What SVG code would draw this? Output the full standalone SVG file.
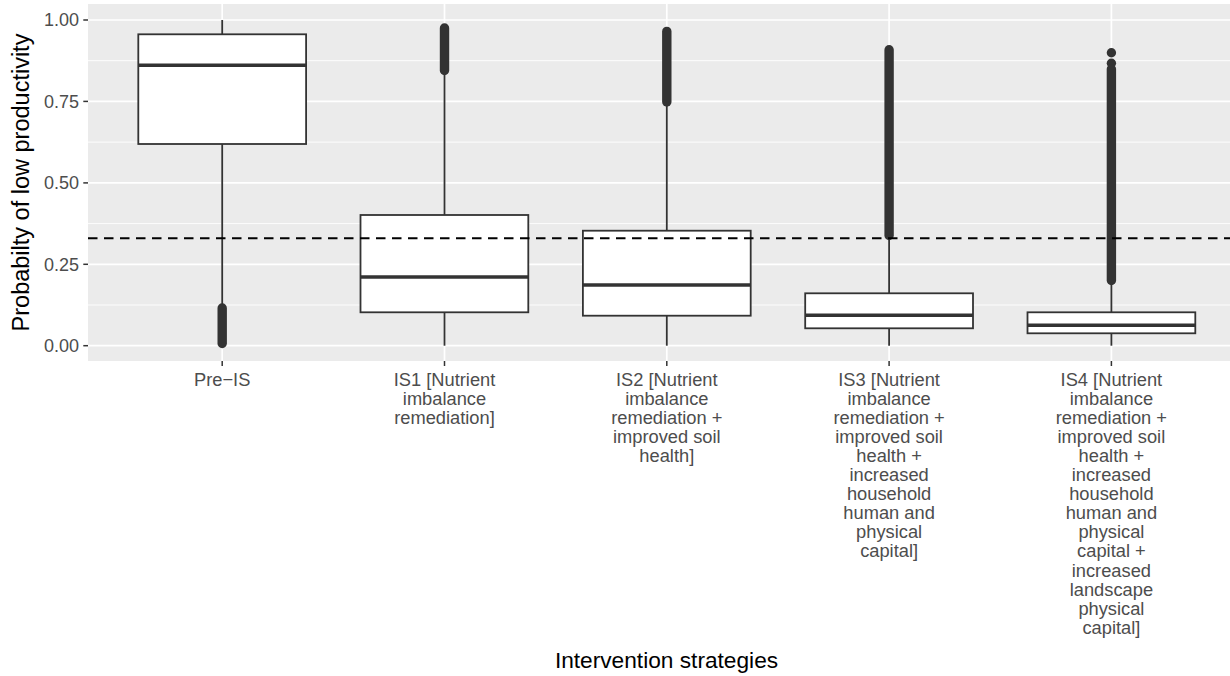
<svg xmlns="http://www.w3.org/2000/svg" width="1230" height="676" viewBox="0 0 1230 676">
<style>
.panel{fill:#EBEBEB}
.gmaj{stroke:#FFFFFF;stroke-width:1.7;fill:none}
.gmin{stroke:#FFFFFF;stroke-width:0.9;fill:none}
.box{fill:#FFFFFF;stroke:#333333;stroke-width:1.8}
.med{stroke:#333333;stroke-width:3.4}
.wh{stroke:#333333;stroke-width:1.8;fill:none}
.out{stroke:#333333;stroke-width:9.4;stroke-linecap:round;fill:none}
.dot{fill:#333333}
.tick{stroke:#333333;stroke-width:1.5}
.ylab{font-family:"Liberation Sans",Arial,Helvetica,sans-serif;font-size:18px;fill:#4D4D4D;text-anchor:end}
.xlab{font-family:"Liberation Sans",Arial,Helvetica,sans-serif;font-size:18.3px;fill:#4D4D4D;text-anchor:middle}
.title{font-family:"Liberation Sans",Arial,Helvetica,sans-serif;font-size:22.7px;fill:#000000;text-anchor:middle}
.ref{stroke:#000000;stroke-width:2;stroke-dasharray:9.5 6.5;fill:none}
</style>
<rect width="1230" height="676" fill="#FFFFFF"/>
<g id="panel">
<rect class="panel" x="88" y="4" width="1142" height="357"/>
<g id="grid-minor">
<line class="gmin" x1="88" y1="60.7" x2="1230" y2="60.7"/>
<line class="gmin" x1="88" y1="142.1" x2="1230" y2="142.1"/>
<line class="gmin" x1="88" y1="223.6" x2="1230" y2="223.6"/>
<line class="gmin" x1="88" y1="305" x2="1230" y2="305"/>
</g>
<g id="grid-major">
<line class="gmaj" x1="88" y1="20" x2="1230" y2="20"/>
<line class="gmaj" x1="88" y1="101.4" x2="1230" y2="101.4"/>
<line class="gmaj" x1="88" y1="182.9" x2="1230" y2="182.9"/>
<line class="gmaj" x1="88" y1="264.3" x2="1230" y2="264.3"/>
<line class="gmaj" x1="88" y1="345.7" x2="1230" y2="345.7"/>
<line class="gmaj" x1="222.2" y1="4" x2="222.2" y2="361"/>
<line class="gmaj" x1="444.5" y1="4" x2="444.5" y2="361"/>
<line class="gmaj" x1="666.8" y1="4" x2="666.8" y2="361"/>
<line class="gmaj" x1="889.1" y1="4" x2="889.1" y2="361"/>
<line class="gmaj" x1="1111.4" y1="4" x2="1111.4" y2="361"/>
</g>
</g>
<g id="box-preis">
<line class="wh" x1="222.2" y1="20" x2="222.2" y2="34.3"/>
<line class="wh" x1="222.2" y1="144" x2="222.2" y2="304"/>
<rect class="box" x="138.3" y="34.3" width="167.8" height="109.7"/>
<line class="med" x1="138.3" y1="65.3" x2="306.1" y2="65.3"/>
<line class="out" x1="222.2" y1="308" x2="222.2" y2="343.5"/>
</g>
<g id="box-is1">
<line class="wh" x1="444.5" y1="70" x2="444.5" y2="215"/>
<line class="wh" x1="444.5" y1="312.3" x2="444.5" y2="345.7"/>
<rect class="box" x="360.5" y="215" width="167.8" height="97.3"/>
<line class="med" x1="360.5" y1="277" x2="528.3" y2="277"/>
<line class="out" x1="444.5" y1="28" x2="444.5" y2="70.5"/>
</g>
<g id="box-is2">
<line class="wh" x1="666.8" y1="102" x2="666.8" y2="230.7"/>
<line class="wh" x1="666.8" y1="315.7" x2="666.8" y2="345.7"/>
<rect class="box" x="582.9" y="230.7" width="167.8" height="85"/>
<line class="med" x1="582.9" y1="285" x2="750.7" y2="285"/>
<line class="out" x1="666.8" y1="31.4" x2="666.8" y2="102"/>
</g>
<g id="box-is3">
<line class="wh" x1="889.1" y1="235" x2="889.1" y2="293.3"/>
<line class="wh" x1="889.1" y1="328.3" x2="889.1" y2="345.7"/>
<rect class="box" x="805.2" y="293.3" width="167.8" height="35"/>
<line class="med" x1="805.2" y1="315.3" x2="973" y2="315.3"/>
<line class="out" x1="889.1" y1="49.7" x2="889.1" y2="235.5"/>
</g>
<g id="box-is4">
<line class="wh" x1="1111.4" y1="280" x2="1111.4" y2="312.3"/>
<line class="wh" x1="1111.4" y1="333.3" x2="1111.4" y2="345.7"/>
<rect class="box" x="1027.5" y="312.3" width="167.8" height="21"/>
<line class="med" x1="1027.5" y1="325.3" x2="1195.3" y2="325.3"/>
<circle class="dot" cx="1111.4" cy="52.7" r="4.7"/>
<circle class="dot" cx="1111.4" cy="63.3" r="4.7"/>
<line class="out" x1="1111.4" y1="69" x2="1111.4" y2="280.5"/>
</g>
<g id="reference-line">
<line class="ref" x1="88" y1="238.3" x2="1230" y2="238.3"/>
</g>
<g id="y-axis">
<line class="tick" x1="83.3" y1="20" x2="88" y2="20"/>
<line class="tick" x1="83.3" y1="101.4" x2="88" y2="101.4"/>
<line class="tick" x1="83.3" y1="182.9" x2="88" y2="182.9"/>
<line class="tick" x1="83.3" y1="264.3" x2="88" y2="264.3"/>
<line class="tick" x1="83.3" y1="345.7" x2="88" y2="345.7"/>
<text class="ylab" x="79" y="26.4">1.00</text>
<text class="ylab" x="79" y="107.8">0.75</text>
<text class="ylab" x="79" y="189.3">0.50</text>
<text class="ylab" x="79" y="270.7">0.25</text>
<text class="ylab" x="79" y="352.1">0.00</text>
<text class="title" transform="translate(29,182.5) rotate(-90)" style="font-size:23.5px">Probabilty of low productivity</text>
</g>
<g id="x-axis">
<line class="tick" x1="222.2" y1="361" x2="222.2" y2="366"/>
<line class="tick" x1="444.5" y1="361" x2="444.5" y2="366"/>
<line class="tick" x1="666.8" y1="361" x2="666.8" y2="366"/>
<line class="tick" x1="889.1" y1="361" x2="889.1" y2="366"/>
<line class="tick" x1="1111.4" y1="361" x2="1111.4" y2="366"/>
<text class="xlab" x="222.2" y="385.5">Pre−IS</text>
<text class="xlab" x="444.5" y="385.5"><tspan x="444.5">IS1 [Nutrient</tspan><tspan x="444.5" dy="19.1">imbalance</tspan><tspan x="444.5" dy="19.1">remediation]</tspan></text>
<text class="xlab" x="666.8" y="385.5"><tspan x="666.8">IS2 [Nutrient</tspan><tspan x="666.8" dy="19.1">imbalance</tspan><tspan x="666.8" dy="19.1">remediation +</tspan><tspan x="666.8" dy="19.1">improved soil</tspan><tspan x="666.8" dy="19.1">health]</tspan></text>
<text class="xlab" x="889.1" y="385.5"><tspan x="889.1">IS3 [Nutrient</tspan><tspan x="889.1" dy="19.1">imbalance</tspan><tspan x="889.1" dy="19.1">remediation +</tspan><tspan x="889.1" dy="19.1">improved soil</tspan><tspan x="889.1" dy="19.1">health +</tspan><tspan x="889.1" dy="19.1">increased</tspan><tspan x="889.1" dy="19.1">household</tspan><tspan x="889.1" dy="19.1">human and</tspan><tspan x="889.1" dy="19.1">physical</tspan><tspan x="889.1" dy="19.1">capital]</tspan></text>
<text class="xlab" x="1111.4" y="385.5"><tspan x="1111.4">IS4 [Nutrient</tspan><tspan x="1111.4" dy="19.1">imbalance</tspan><tspan x="1111.4" dy="19.1">remediation +</tspan><tspan x="1111.4" dy="19.1">improved soil</tspan><tspan x="1111.4" dy="19.1">health +</tspan><tspan x="1111.4" dy="19.1">increased</tspan><tspan x="1111.4" dy="19.1">household</tspan><tspan x="1111.4" dy="19.1">human and</tspan><tspan x="1111.4" dy="19.1">physical</tspan><tspan x="1111.4" dy="19.1">capital +</tspan><tspan x="1111.4" dy="19.1">increased</tspan><tspan x="1111.4" dy="19.1">landscape</tspan><tspan x="1111.4" dy="19.1">physical</tspan><tspan x="1111.4" dy="19.1">capital]</tspan></text>
<text class="title" x="666.5" y="667.7">Intervention strategies</text>
</g>
</svg>
